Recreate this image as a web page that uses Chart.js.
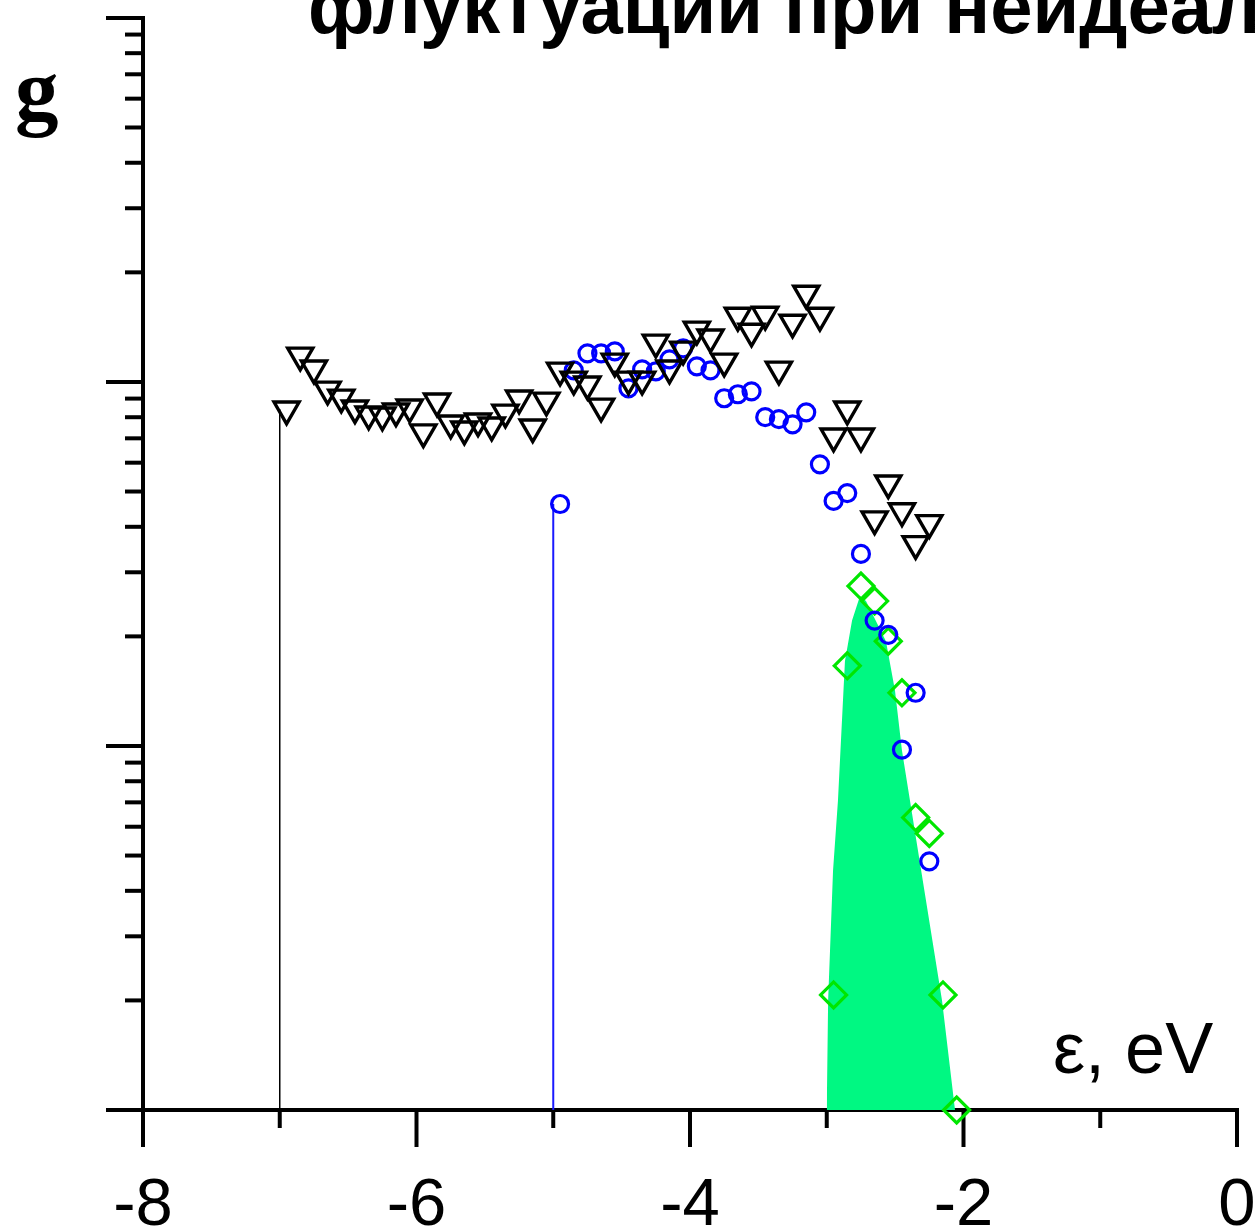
<!DOCTYPE html>
<html>
<head>
<meta charset="utf-8">
<script src="https://cdn.jsdelivr.net/npm/chart.js@4.4.1/dist/chart.umd.min.js"></script>
<style>
html, body { margin: 0; padding: 0; background: #fff; overflow: hidden; }
#wrap { position: relative; width: 1255px; height: 1231px; overflow: hidden; background: #fff; }
#c { position: absolute; left: 0; top: 0; }
.lbl { position: absolute; white-space: nowrap; line-height: 1; color: #000; }
#title { left: 308px; top: -37px; font: bold 76px "Liberation Sans", Arial, sans-serif; }
#ylab { left: 15px; top: 39px; font: bold 87px "Liberation Serif", "Times New Roman", serif; }
#xlab { left: 1053px; top: 1007px; font: 72px "Liberation Sans", Arial, sans-serif; }
</style>
</head>
<body>
<div id="wrap">
  <canvas id="c" width="1255" height="1231"></canvas>
  <div class="lbl" id="title">флуктуации при неидеальности</div>
  <div class="lbl" id="ylab">g</div>
  <div class="lbl" id="xlab">ε, eV</div>
</div>
<script>
// ---- tick definitions ----
const xMajorTicks = [-8, -6, -4, -2, 0];
const xMinorTicks = [-7, -5, -3, -1];
const xTickLabels = ['-8', '-6', '-4', '-2', '0'];
const yDecades = [1, 10, 100, 1000];
const yMinorMultipliers = [2, 3, 4, 5, 6, 7, 8, 9];

// ---- black open triangles ----
const triangleX = [-6.95, -6.85, -6.75, -6.65, -6.55, -6.45, -6.35, -6.25, -6.15, -6.05,
  -5.95, -5.85, -5.75, -5.65, -5.55, -5.45, -5.35, -5.25, -5.15, -5.05,
  -4.95, -4.85, -4.75, -4.65, -4.55, -4.45, -4.35, -4.25, -4.15, -4.05,
  -3.95, -3.85, -3.75, -3.65, -3.55, -3.45, -3.35, -3.25, -3.15, -3.05,
  -2.95, -2.85, -2.75, -2.65, -2.55, -2.45, -2.35, -2.25];
const triangleY = [84.1, 118.3, 109.0, 95.4, 90.7, 84.7, 81.5, 81.0, 83.1, 85.2,
  72.8, 88.5, 77.0, 74.1, 78.0, 76.0, 82.5, 90.2, 75.1, 89.0,
  107.6, 101.6, 98.5, 85.7, 113.9, 101.6, 101.6, 128.4, 109.0, 122.9,
  139.4, 132.6, 113.9, 152.2, 137.6, 153.2, 108.3, 145.7, 175.0, 152.2,
  70.9, 84.1, 70.9, 42.0, 52.7, 44.2, 35.9, 41.0];

// ---- blue open circles ----
const circleX = [-4.95, -4.85, -4.75, -4.65, -4.55, -4.45, -4.35, -4.25, -4.15, -4.05,
  -3.95, -3.85, -3.75, -3.65, -3.55, -3.45, -3.35, -3.25, -3.15, -3.05,
  -2.95, -2.85, -2.75, -2.65, -2.55, -2.45, -2.35, -2.25];
const circleY = [46.2, 107.6, 119.8, 119.8, 121.3, 96.0, 108.3, 106.9, 115.3, 123.7,
  110.4, 107.6, 90.2, 92.5, 94.2, 80.0, 79.0, 76.5, 82.5, 59.4,
  47.1, 49.5, 33.7, 22.1, 20.2, 9.77, 14.0, 4.82];

// ---- green open diamonds ----
const diamondX = [-2.95, -2.85, -2.75, -2.65, -2.55, -2.45, -2.35, -2.25, -2.15, -2.05];
const diamondY = [2.07, 16.6, 27.5, 25.0, 19.4, 14.0, 6.36, 5.75, 2.07, 1.0];

// ---- green filled band ----
const fillX = [-3.00, -2.99, -2.954, -2.918, -2.867, -2.815, -2.757, -2.713, -2.567, -2.501, -2.450, -2.333, -2.157, -2.062];
const fillY = [1.0, 2.0, 4.55, 7.08, 17.1, 22.1, 25.8, 25.0, 19.4, 14.2, 9.71, 5.16, 2.0, 1.0];

// ---- drop lines ----
const stemBlackX = -7;
const stemBlueX = -5;
const axisMinY = 1;

const pts = (xs, ys) => xs.map((x, i) => ({ x: x, y: ys[i] }));

const axesPlugin = {
  id: 'axesPlugin',
  beforeDatasetsDraw(chart) {
    const ctx = chart.ctx;
    const xs = chart.scales.x, ys = chart.scales.y;
    const xl = xs.getPixelForValue(xMajorTicks[0]);
    const xr = xs.getPixelForValue(xMajorTicks[xMajorTicks.length - 1]);
    const yb = ys.getPixelForValue(yDecades[0]);
    const yt = ys.getPixelForValue(yDecades[yDecades.length - 1]);
    const MAJ = 37, MIN = 18;
    ctx.save();
    ctx.strokeStyle = '#000';
    ctx.lineCap = 'butt';
    const seg = (a, b, c, d, w) => { ctx.lineWidth = w; ctx.beginPath(); ctx.moveTo(a, b); ctx.lineTo(c, d); ctx.stroke(); };
    // axis lines
    seg(xl, yt - 2, xl, yb + MAJ, 4);
    seg(xl - MAJ, yb, xr + 2, yb, 4);
    // x ticks
    xMajorTicks.forEach(v => { const p = xs.getPixelForValue(v); seg(p, yb, p, yb + MAJ, 4); });
    xMinorTicks.forEach(v => { const p = xs.getPixelForValue(v); seg(p, yb, p, yb + MIN, 4); });
    // y ticks
    yDecades.forEach(d => { const p = ys.getPixelForValue(d); seg(xl - MAJ, p, xl, p, 4); });
    yDecades.slice(0, -1).forEach(d => {
      yMinorMultipliers.forEach(m => { const p = ys.getPixelForValue(d * m); seg(xl - MIN, p, xl, p, 4); });
    });
    ctx.restore();
  }
};

new Chart(document.getElementById('c'), {
  type: 'scatter',
  data: {
    datasets: [
      {
        label: 'fill', type: 'line', data: pts(fillX, fillY),
        showLine: true, fill: 'start', backgroundColor: '#00f882', borderWidth: 0,
        borderColor: 'rgba(0,0,0,0)', pointRadius: 0, tension: 0, order: 10
      },
      {
        label: 'stemBlack', type: 'line',
        data: [{ x: stemBlackX, y: axisMinY }, { x: stemBlackX, y: triangleY[0] }],
        showLine: true, borderColor: '#000', borderWidth: 1.5, pointRadius: 0, fill: false, order: 9
      },
      {
        label: 'stemBlue', type: 'line',
        data: [{ x: stemBlueX, y: axisMinY }, { x: stemBlueX, y: circleY[0] }],
        showLine: true, borderColor: '#1a1aff', borderWidth: 2, pointRadius: 0, fill: false, order: 8
      },
      {
        label: 'diamonds', data: pts(diamondX, diamondY),
        pointStyle: 'rectRot', pointRadius: 13, pointBorderWidth: 3.2,
        borderColor: '#00e600', backgroundColor: 'rgba(0,0,0,0)', clip: false, order: 3
      },
      {
        label: 'circles', data: pts(circleX, circleY),
        pointStyle: 'circle', pointRadius: 8.5, pointBorderWidth: 3.2,
        borderColor: '#0000ff', backgroundColor: 'rgba(0,0,0,0)', clip: false, order: 2
      },
      {
        label: 'triangles', data: pts(triangleX, triangleY),
        pointStyle: 'triangle', pointRotation: 180, pointRadius: 14.5, pointBorderWidth: 3.4,
        borderColor: '#000', backgroundColor: 'rgba(0,0,0,0)', clip: false, order: 1
      }
    ]
  },
  options: {
    responsive: false,
    animation: false,
    devicePixelRatio: 1,
    layout: { padding: { left: 143, right: 18, top: 16, bottom: 0 } },
    plugins: { legend: { display: false }, tooltip: { enabled: false }, title: { display: false } },
    scales: {
      x: {
        type: 'linear', min: xMajorTicks[0], max: xMajorTicks[xMajorTicks.length - 1],
        grid: { display: false, drawTicks: false }, border: { display: false },
        afterBuildTicks: s => { s.ticks = xMajorTicks.map(v => ({ value: v })); },
        ticks: {
          color: '#000', padding: 56, maxRotation: 0, autoSkip: false,
          font: { family: '"Liberation Sans", Arial, sans-serif', size: 67 },
          callback: (v) => { const i = xMajorTicks.indexOf(v); return i >= 0 ? xTickLabels[i] : ''; }
        },
        afterFit: s => { s.height = 121; s.paddingLeft = 0; s.paddingRight = 0; }
      },
      y: {
        type: 'logarithmic', min: yDecades[0], max: yDecades[yDecades.length - 1],
        grid: { display: false, drawTicks: false }, border: { display: false },
        ticks: { display: false },
        afterFit: s => { s.width = 0; s.paddingTop = 0; s.paddingBottom = 0; }
      }
    }
  },
  plugins: [axesPlugin]
});
</script>
</body>
</html>
